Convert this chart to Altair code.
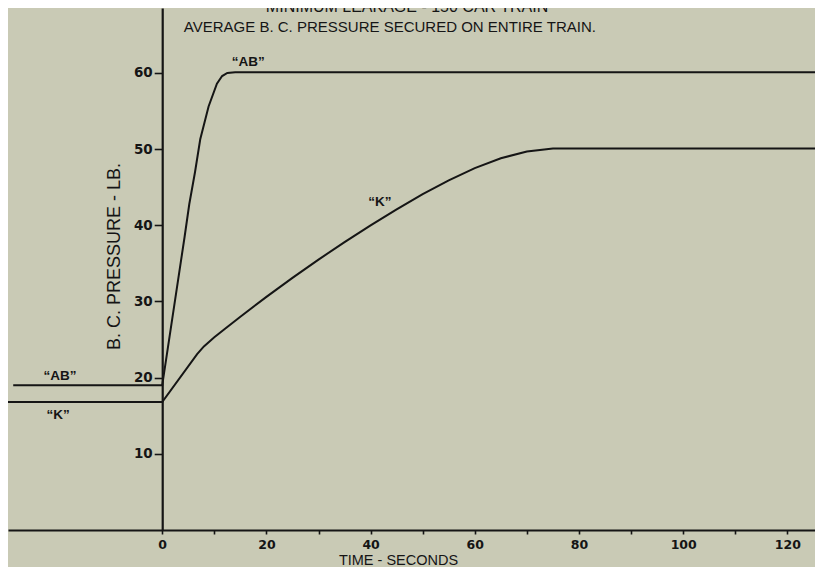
import altair as alt
import pandas as pd

# ---- data ----
ab_t = [-28.6, 0, 4.3, 5.2, 6.3, 7.3, 8.9, 10.5, 11.5, 12.5, 14, 127]
ab_v = [19.0, 19.0, 38.5, 42.8, 47.0, 51.3, 55.6, 58.6, 59.6, 60.0, 60.1, 60.1]
k_t = [-31, 0, 6.7, 8, 10, 12, 15, 20, 25, 30, 35, 40, 45, 50, 55, 60, 65, 70, 75, 80, 127]
k_v = [16.8, 16.8, 23.1, 24.1, 25.3, 26.4, 28.0, 30.6, 33.1, 35.5, 37.8, 40.0, 42.1,
       44.1, 45.9, 47.5, 48.8, 49.7, 50.1, 50.1, 50.1]

label_text = ["\u201cAB\u201d", "\u201cK\u201d", "\u201cAB\u201d", "\u201cK\u201d"]
label_t = [16.5, 41.8, -19.6, -20.0]
label_v = [61.4, 43.0, 20.2, 15.1]

title1 = "MINIMUM LEAKAGE - 150 CAR TRAIN"
title2 = "AVERAGE B. C. PRESSURE SECURED ON ENTIRE TRAIN."
ytitle = "B. C. PRESSURE - LB."
xtitle = "TIME - SECONDS"

x_ticks = list(range(0, 121, 10))
y_ticks = [10, 20, 30, 40, 50, 60]

X_DOMAIN = [-29.6, 125.3]
Y_DOMAIN = [0, 68.53]
W, H = 807, 522
INK = "#151515"
BG = "#c9cab5"
FONT = "Liberation Sans"

rows = []
for i, (t, v) in enumerate(zip(ab_t, ab_v)):
    rows.append({"series": "AB", "t": t, "v": v, "i": i})
for i, (t, v) in enumerate(zip(k_t, k_v)):
    rows.append({"series": "K", "t": t, "v": v, "i": i})
lines_df = pd.DataFrame(rows)

labels_df = pd.DataFrame({"text": label_text, "t": label_t, "v": label_v})

x_offset = -(0 - X_DOMAIN[0]) / (X_DOMAIN[1] - X_DOMAIN[0]) * W

xscale = alt.Scale(domain=X_DOMAIN, nice=False, zero=False)
yscale = alt.Scale(domain=Y_DOMAIN, nice=False, zero=False)

x_enc = alt.X(
    "t:Q", scale=xscale,
    axis=alt.Axis(
        values=x_ticks, labelExpr="datum.value % 20 == 0 ? datum.label : ''",
        title=xtitle, titleX=390, titleY=34, titleBaseline="alphabetic",
        titleFont=FONT, titleFontSize=14.5, titleFontWeight="normal",
        titleColor=INK, labelFont="DejaVu Sans", labelFontSize=12.5,
        labelFontWeight="bold", labelColor=INK,
        tickSize=4, labelPadding=4, tickColor=INK, tickWidth=1.6,
        domainColor=INK, domainWidth=2, grid=False, labelFlush=False,
    ),
)
y_enc = alt.Y(
    "v:Q", scale=yscale,
    axis=alt.Axis(
        values=y_ticks, title=None, offset=x_offset,
        labelFont="DejaVu Sans", labelFontSize=13.5, labelFontWeight="bold",
        labelColor=INK, tickSize=8, labelPadding=2, tickColor=INK, tickWidth=1.6,
        domainColor=INK, domainWidth=2.2, grid=False,
    ),
)

lines = alt.Chart(lines_df).mark_line(color=INK, strokeWidth=2, clip=True).encode(
    x=x_enc, y=y_enc, detail="series:N", order="i:Q"
)

labels = alt.Chart(labels_df).mark_text(
    font=FONT, fontSize=13.5, fontWeight="bold", color=INK, align="center", baseline="middle"
).encode(x=alt.X("t:Q", scale=xscale), y=alt.Y("v:Q", scale=yscale), text="text:N")

t1 = alt.Chart(pd.DataFrame({"t": [47.0], "v": [68.0], "s": [title1]})).mark_text(
    font=FONT, fontSize=16, color=INK, align="center",
    baseline="alphabetic", clip=True
).encode(x=alt.X("t:Q", scale=xscale), y=alt.Y("v:Q", scale=yscale), text="s:N")

t2 = alt.Chart(pd.DataFrame({"t": [43.7], "v": [66.0], "s": [title2]})).mark_text(
    font=FONT, fontSize=15, color=INK, align="center", baseline="middle"
).encode(x=alt.X("t:Q", scale=xscale), y=alt.Y("v:Q", scale=yscale), text="s:N")

yt = alt.Chart(pd.DataFrame({"t": [-9.0], "v": [35.9], "s": [ytitle]})).mark_text(
    font=FONT, fontSize=18, color=INK, align="center",
    baseline="middle", angle=270
).encode(x=alt.X("t:Q", scale=xscale), y=alt.Y("v:Q", scale=yscale), text="s:N")

chart = alt.layer(lines, labels, t1, t2, yt).properties(
    width=W, height=H, padding=0, background=BG
).configure_view(stroke=None)

chart.save("out.html", embed_options={"renderer": "svg", "actions": False})
